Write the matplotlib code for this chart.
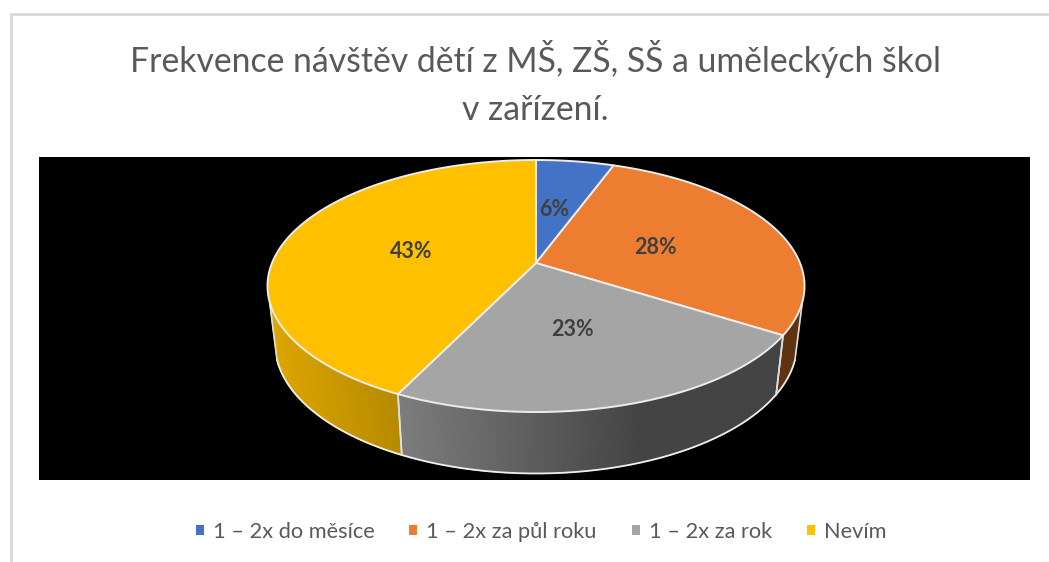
import numpy as np
import matplotlib
matplotlib.use("Agg")
import matplotlib.pyplot as plt
from matplotlib.patches import Rectangle, Patch
from matplotlib.colors import to_rgb

categories = ["1 – 2x do měsíce", "1 – 2x za půl roku", "1 – 2x za rok", "Nevím"]
values = [5.6, 28.4, 23.2, 42.8]
colors = ["#4472C4", "#ED7D31", "#A5A5A5", "#FFC000"]
side_left = ["#2f4f88", "#5f3210", "#7c7c7c", "#dca600"]
side_right = ["#2f4f88", "#5f3210", "#444444", "#b88a00"]
title = "Frekvence návštěv dětí z MŠ, ZŠ, SŠ a uměleckých škol\nv zařízení."
label_pos = [(554, 210), (655, 248), (572, 329), (411, 252)]

W, H = 1049, 562
plt.rcParams["font.family"] = ["Lato", "DejaVu Sans"]
fig = plt.figure(figsize=(W / 100, H / 100), dpi=100, facecolor="white")
ax = fig.add_axes([0, 0, 1, 1])
ax.set_xlim(0, W)
ax.set_ylim(H, 0)
ax.axis("off")

ax.add_patch(Rectangle((10.5, 13.5), W + 20, H + 20, fc="white", ec="#d9d9d9", lw=2, zorder=0))
ax.add_patch(Rectangle((39, 157), 991, 323, fc="black", ec="none", zorder=1))

CX, CY, A, B, K = 536.0, 263.0, 264.0, 121.8, 0.1826


def top(t):
    X, Y = np.sin(t), np.cos(t)
    w = 1 + K * Y
    return CX + A * X / w, CY - B * Y / w


def low(t):
    x, y = top(t)
    return CX + 0.972 * (x - CX), 320 + 1.03 * (y - CY)


edges = np.radians(np.cumsum([0] + values) * 3.6)
VIS = -0.3  # the side shows only where cos(angle) is below this

for i in range(len(values)):
    t = np.linspace(edges[i], edges[i + 1], 160)
    t = t[np.cos(t) < VIS]
    if len(t) < 2:
        continue
    c0, c1 = np.array(to_rgb(side_left[i])), np.array(to_rgb(side_right[i]))
    for t0, t1 in zip(t[:-1], t[1:]):
        xa, ya = top(t0)
        xb, yb = top(t1)
        xc, yc = low(t1)
        xd, yd = low(t0)
        if i == 2:
            f = min(1, max(0, (xa - 402) / 240))
        elif i == 3:
            f = min(1, max(0, (xa - 272) / 125))
        else:
            f = 0
        col = c0 + (c1 - c0) * f
        ax.fill([xa, xb, xc, xd], [ya, yb, yc, yd], fc=col, ec=col, lw=1.0, zorder=2)
    xl, yl = low(t)
    ax.plot(xl, yl, color="#eeeeee", lw=1.3, zorder=3)
    # outer end of the visible side
    for te in (t[0], t[-1]):
        xa, ya = top(te)
        xb, yb = low(te)
        ax.plot([xa, xb], [ya, yb], color="#dddddd", lw=1.2, zorder=3)

for i in range(len(values)):
    t = np.linspace(edges[i], edges[i + 1], 200)
    x, y = top(t)
    ax.fill(np.r_[CX, x], np.r_[CY, y], fc=colors[i], ec="#ececec", lw=1.4, zorder=4, joinstyle="round")

for v, (x, y) in zip(values, label_pos):
    ax.text(x, y, f"{v:.0f}%", fontsize=15.5, fontweight="bold", color="#404040",
            ha="center", va="center", zorder=5)

ax.text(535, 83, title, fontsize=24.3, color="#595959", ha="center", va="center",
        linespacing=1.62, zorder=5)

handles = [Patch(fc=c, ec="none") for c in colors]
ax.legend(handles, categories, ncol=4, loc="center", bbox_to_anchor=(541 / W, 1 - 532 / H),
          frameon=False, fontsize=15.7, labelcolor="#595959", handlelength=0.36, handleheight=0.36,
          handletextpad=0.42, columnspacing=1.6)

fig.savefig("out.png", dpi=100)
